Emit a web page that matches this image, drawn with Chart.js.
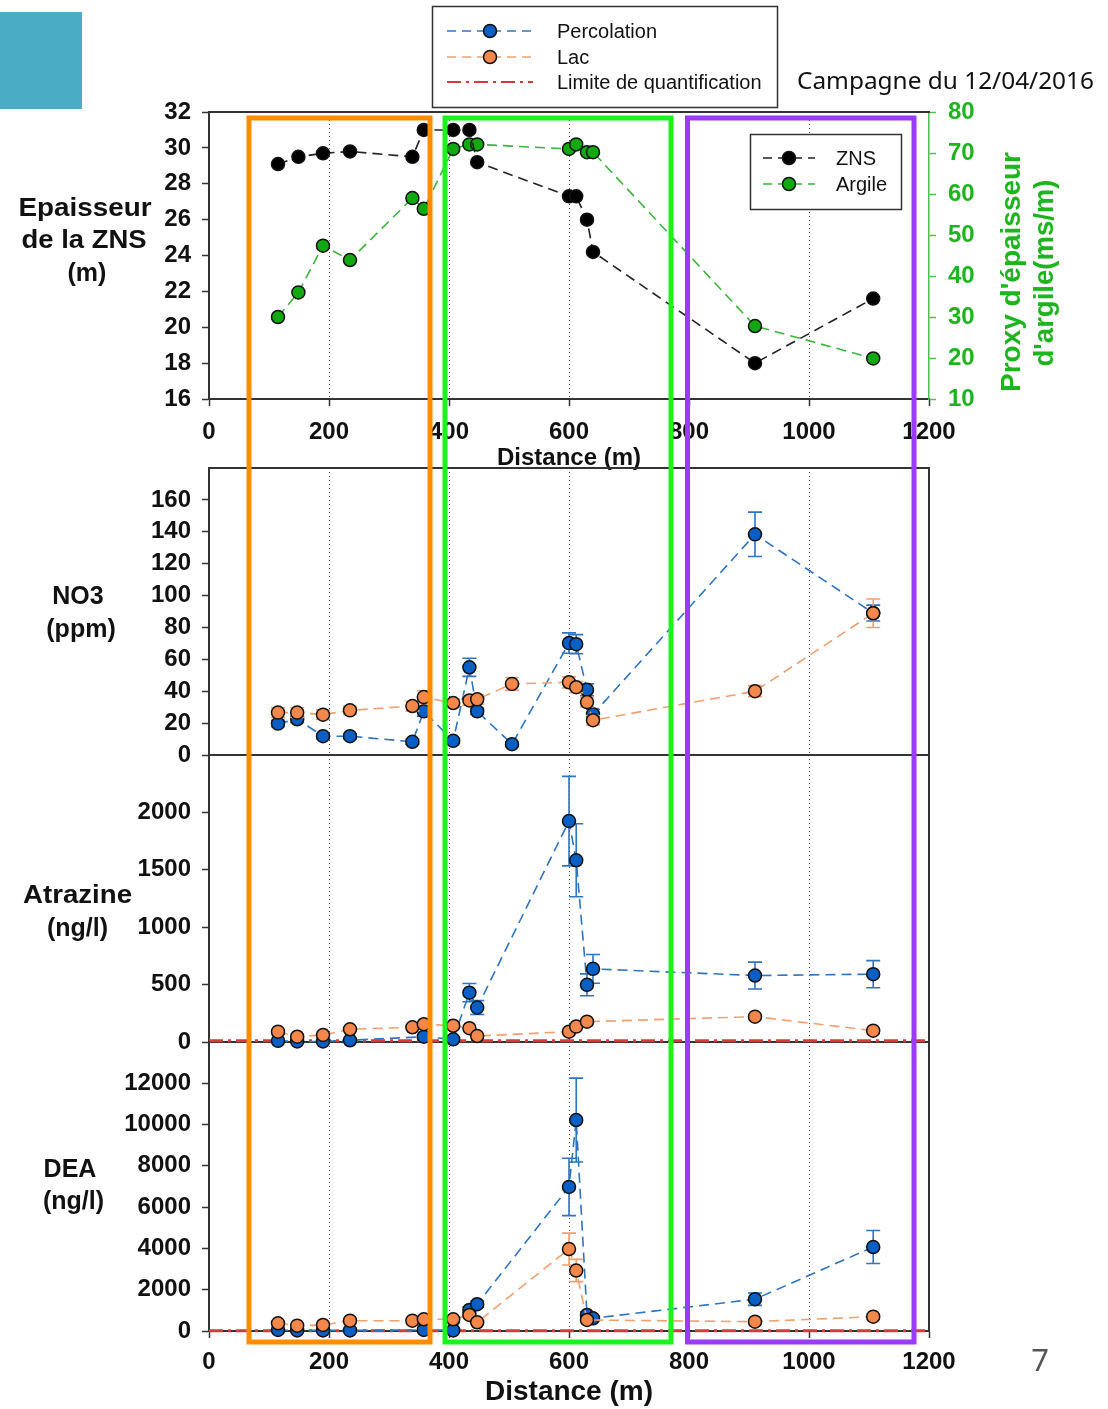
<!DOCTYPE html>
<html>
<head>
<meta charset="utf-8">
<script src="https://cdn.jsdelivr.net/npm/chart.js@4"></script>
<style>
  body { margin: 0; background: #fff; width: 1108px; height: 1409px; position: relative; overflow: hidden; }
  canvas { position: absolute; left: 0; }
  #overlay { position: absolute; left: 0; top: 0; pointer-events: none; }
</style>
</head>
<body>
<canvas id="cZns" width="1108" height="480" style="top:0px"></canvas>
<canvas id="cNo3" width="1108" height="343" style="top:440px"></canvas>
<canvas id="cAtz" width="1108" height="343" style="top:727px"></canvas>
<canvas id="cDea" width="1108" height="395" style="top:1014px"></canvas>

<svg id="overlay" width="1108" height="1409" font-family="Liberation Sans, Arial, sans-serif">
  <rect x="0" y="12" width="82" height="97" fill="#4BACC6"/>

  <!-- main legend -->
  <rect x="432.5" y="6.5" width="345" height="101" fill="#fff" stroke="#333" stroke-width="1.5"/>
  <line x1="447" y1="31" x2="535" y2="31" stroke="#2F74C0" stroke-width="1.6" stroke-dasharray="9,6"/>
  <circle cx="490" cy="31" r="6.5" fill="#0A5FC4" stroke="#111" stroke-width="1.5"/>
  <text x="557" y="38" font-size="20" fill="#111">Percolation</text>
  <line x1="447" y1="57" x2="535" y2="57" stroke="#F0A070" stroke-width="1.6" stroke-dasharray="9,6"/>
  <circle cx="490" cy="57" r="6.5" fill="#F4874A" stroke="#111" stroke-width="1.5"/>
  <text x="557" y="64" font-size="20" fill="#111">Lac</text>
  <line x1="447" y1="82" x2="533" y2="82" stroke="#D63B3B" stroke-width="1.8" stroke-dasharray="14,5,3,5"/>
  <text x="557" y="89" font-size="20" fill="#111">Limite de quantification</text>

  <text x="797" y="89" font-family="Noto Sans, sans-serif" font-size="23" fill="#111" textLength="297" lengthAdjust="spacingAndGlyphs">Campagne du 12/04/2016</text>

  <!-- ZNS / Argile legend -->
  <rect x="750.5" y="134.5" width="151" height="75" fill="#fff" stroke="#333" stroke-width="1.5"/>
  <line x1="763" y1="158" x2="815" y2="158" stroke="#222" stroke-width="1.6" stroke-dasharray="9,6"/>
  <circle cx="789" cy="158" r="6.5" fill="#000" stroke="#111" stroke-width="1.5"/>
  <text x="836" y="165" font-size="20" fill="#111">ZNS</text>
  <line x1="763" y1="184" x2="815" y2="184" stroke="#3DB33D" stroke-width="1.6" stroke-dasharray="9,6"/>
  <circle cx="789" cy="184" r="6.5" fill="#12A812" stroke="#111" stroke-width="1.5"/>
  <text x="836" y="191" font-size="20" fill="#111">Argile</text>

  <!-- side labels -->
  <g font-size="25" font-weight="bold" fill="#111" text-anchor="middle">
    <text x="85" y="216" textLength="133" lengthAdjust="spacingAndGlyphs">Epaisseur</text>
    <text x="84" y="248" textLength="125" lengthAdjust="spacingAndGlyphs">de la ZNS</text>
    <text x="87" y="281">(m)</text>
    <text x="78" y="604">NO3</text>
    <text x="81" y="637">(ppm)</text>
    <text x="77.5" y="903" textLength="109" lengthAdjust="spacingAndGlyphs">Atrazine</text>
    <text x="77.5" y="936">(ng/l)</text>
    <text x="70" y="1177">DEA</text>
    <text x="73.5" y="1209">(ng/l)</text>
  </g>
  <g font-size="27" font-weight="bold" fill="#1EB41E" text-anchor="middle">
    <text transform="translate(1020,272) rotate(-90)" textLength="240" lengthAdjust="spacingAndGlyphs">Proxy d'épaisseur</text>
    <text transform="translate(1053,273) rotate(-90)" textLength="187" lengthAdjust="spacingAndGlyphs">d'argile(ms/m)</text>
  </g>

  <!-- zones -->
  <rect x="249" y="118" width="181" height="1224" fill="none" stroke="#FF8C00" stroke-width="5"/>
  <rect x="445" y="118" width="226" height="1224" fill="none" stroke="#1CF21C" stroke-width="5"/>
  <rect x="687.5" y="118" width="226.5" height="1224" fill="none" stroke="#9B3BFA" stroke-width="5"/>

  <text x="1040" y="1371" font-family="Noto Sans, sans-serif" font-size="31" fill="#555" text-anchor="middle">7</text>
</svg>

<script>
// --- data ---
const xTicks = [0, 200, 400, 600, 800, 1000, 1200];
const znsTicks = [16, 18, 20, 22, 24, 26, 28, 30, 32];
const argileTicks = [10, 20, 30, 40, 50, 60, 70, 80];
const no3Ticks = [0, 20, 40, 60, 80, 100, 120, 140, 160];
const atzTicks = [0, 500, 1000, 1500, 2000];
const deaTicks = [0, 2000, 4000, 6000, 8000, 10000, 12000];

const distZns = [115, 149, 190, 235, 339, 358, 407, 434, 447, 600, 612, 630, 640, 910, 1107];
const zns     = [29.1, 29.5, 29.7, 29.8, 29.5, 31.0, 31.0, 31.0, 29.2, 27.3, 27.3, 26.0, 24.2, 18.0, 21.6];
const argile  = [30, 36, 47.4, 43.9, 59, 56.4, 71, 72.1, 72.1, 71, 72.1, 70.2, 70.2, 27.8, 19.9];

const distNo3    = [115, 147, 190, 235, 339, 358, 407, 434, 447, 505, 600, 612, 630, 640, 910, 1107];
const no3Perc    = [19.7, 22.4, 11.8, 11.8, 8.3, 27.4, 8.9, 55, 27.4, 6.8, 70.2, 69.5, 40.9, 25.5, 138.4, 89];
const no3PercErr = [2, 2, 1.5, 1.5, 1.5, 3, 1.5, 5.7, 2, 1.5, 6.4, 6, 3.7, 3, 13.9, 5];
const no3Lac     = [26.6, 26.6, 25.3, 28, 30.7, 36.3, 32.6, 34.2, 34.9, 44.6, 45.6, 42.5, 33.2, 21.8, 40, 88.9];
const no3LacErr  = [3, 3, 3, 2.5, 3, 4, 2.5, 3, 3, 4, 3.5, 3.5, 3, 3, 3.5, 8.9];

const distPest   = [115, 147, 190, 235, 339, 358, 407, 434, 447, 600, 612, 630, 640, 910, 1107];
const atzPerc    = [10, 5, 5, 15, null, 46, 23, 430, 300, 1924, 1583, 498, 637, 579, 591];
const atzPercErr = [0, 0, 0, 0, 0, 10, 0, 80, 60, 390, 318, 95, 125, 117, 118];
const atzLac     = [90, 46, 61, 111, 128, 155, 142, 120, 52, 90, 134, 177, null, 221, 99];
const atzLacErr  = [0, 0, 0, 0, 0, 0, 0, 0, 0, 0, 0, 0, 0, 0, 0];
const atzLq      = 10;

const deaPerc    = [50, 30, 30, 30, null, 50, 30, 1020, 1297, 6980, 10220, 777, 617, 1540, 4067];
const deaPercErr = [0, 0, 0, 0, 0, 0, 0, 150, 150, 1390, 2030, 150, 100, 300, 800];
const deaLac     = [374, 258, 291, 500, 500, 568, 568, 777, 423, 3970, 2930, 535, null, 452, 695];
const deaLacErr  = [0, 0, 0, 0, 0, 0, 0, 0, 0, 770, 540, 0, 0, 0, 0];
const deaLq      = 10;

// --- helpers ---
Chart.defaults.font.family = '"Liberation Sans", Arial, sans-serif';
Chart.defaults.animation = false;
Chart.defaults.plugins.legend.display = false;
Chart.defaults.plugins.tooltip.enabled = false;

const BLUE_LINE = '#2F74C0', BLUE_FILL = '#0A5FC4';
const ORANGE_LINE = '#F0A070', ORANGE_FILL = '#F4874A';

const pts = (xs, ys) => xs.map((x, i) => ({x: x, y: ys[i]}));
const plain = v => String(v);

function series(label, xs, ys, errs, line, fill, yAxisID, order) {
  return {
    label: label, data: pts(xs, ys), errors: errs, yAxisID: yAxisID,
    borderColor: line, backgroundColor: fill, borderWidth: 1.6, borderDash: [10, 6],
    pointRadius: 6.5, pointBackgroundColor: fill, pointBorderColor: '#111', pointBorderWidth: 1.5,
    spanGaps: true, clip: false, order: order
  };
}

function lqLine(v) {
  return {
    label: 'Limite de quantification', data: [{x: 0, y: v}, {x: 1200, y: v}], yAxisID: 'y',
    borderColor: '#D63B3B', borderWidth: 3, borderDash: [14, 5, 3, 5], pointRadius: 0, clip: false, order: 9
  };
}

// error bars drawn just before each dataset so the markers sit on top
const errorBars = {
  id: 'errorBars',
  beforeDatasetDraw(chart, args) {
    const ds = chart.data.datasets[args.index];
    if (!ds.errors) return;
    const ctx = chart.ctx, xs = args.meta.xScale, ys = args.meta.yScale;
    ctx.save();
    ctx.strokeStyle = ds.borderColor;
    ctx.lineWidth = 1.6;
    ds.data.forEach((p, i) => {
      const e = ds.errors[i];
      if (p.y == null || !e) return;
      const x = xs.getPixelForValue(p.x);
      const y1 = ys.getPixelForValue(p.y - e), y2 = ys.getPixelForValue(p.y + e);
      ctx.beginPath();
      ctx.moveTo(x, y1); ctx.lineTo(x, y2);
      ctx.moveTo(x - 7, y1); ctx.lineTo(x + 7, y1);
      ctx.moveTo(x - 7, y2); ctx.lineTo(x + 7, y2);
      ctx.stroke();
    });
    ctx.restore();
  }
};

const frame = {
  id: 'frame',
  afterDraw(chart, args, o) {
    const ctx = chart.ctx, a = chart.chartArea;
    ctx.save();
    ctx.strokeStyle = '#333';
    ctx.lineWidth = 2;
    ctx.beginPath();
    if (o.top) { ctx.moveTo(a.left - 1, a.top); ctx.lineTo(a.right + 1, a.top); }
    if (o.right) { ctx.moveTo(a.right, a.top); ctx.lineTo(a.right, a.bottom); }
    ctx.stroke();
    ctx.restore();
  }
};

function xAxis(o) {
  return {
    type: 'linear', min: 0, max: 1200,
    afterBuildTicks: s => { s.ticks = xTicks.map(v => ({value: v})); },
    afterFit: s => { s.height = o.height; },
    border: {color: '#333', width: 2, dash: [1, 3]},
    grid: {
      color: c => (c.tick && c.tick.value > 0 && c.tick.value < 1200) ? '#444' : 'rgba(0,0,0,0)',
      lineWidth: 1,
      drawTicks: o.labels, tickLength: 7, tickColor: '#333', tickWidth: 1.5, tickBorderDash: []
    },
    ticks: {display: o.labels, padding: o.padding || 0, color: '#111', autoSkip: false, maxRotation: 0,
            callback: plain, font: {size: 24, weight: 'bold'}},
    title: {display: !!o.title, text: 'Distance (m)', color: '#111',
            font: {size: o.titleSize || 24, weight: 'bold'}, padding: {top: 0, bottom: o.titleBottom || 0}}
  };
}

function yAxis(tickVals, min, max) {
  return {
    position: 'left', min: min, max: max,
    afterBuildTicks: s => { s.ticks = tickVals.map(v => ({value: v})); },
    afterFit: s => { s.width = 209; },
    border: {color: '#333', width: 2},
    grid: {drawOnChartArea: false, tickLength: 7, tickColor: '#333', tickWidth: 1.5},
    ticks: {padding: 11, color: '#111', autoSkip: false, callback: plain, font: {size: 24, weight: 'bold'}}
  };
}

// --- top panel: ZNS thickness and clay proxy ---
new Chart(document.getElementById('cZns'), {
  type: 'line',
  data: {datasets: [
    series('ZNS', distZns, zns, null, '#222', '#000', 'y', 1),
    series('Argile', distZns, argile, null, '#3DB33D', '#12A812', 'y2', 2)
  ]},
  options: {
    responsive: false,
    layout: {padding: {top: 112, left: 0, right: 0, bottom: 0}},
    scales: {
      x: xAxis({height: 81, labels: true, padding: 12, title: true, titleSize: 24, titleBottom: 7}),
      y: yAxis(znsTicks, 16, 32),
      y2: {
        position: 'right', min: 10, max: 80,
        afterBuildTicks: s => { s.ticks = argileTicks.map(v => ({value: v})); },
        afterFit: s => { s.width = 179; },
        border: {color: '#4DC04D', width: 1.5},
        grid: {drawOnChartArea: false, tickLength: 7, tickColor: '#4DC04D', tickWidth: 1.5},
        ticks: {padding: 12, color: '#1EB41E', autoSkip: false, callback: plain, font: {size: 24, weight: 'bold'}}
      }
    },
    plugins: {frame: {top: true, right: false}}
  },
  plugins: [errorBars, frame]
});

// --- NO3 ---
new Chart(document.getElementById('cNo3'), {
  type: 'line',
  data: {datasets: [
    series('Percolation', distNo3, no3Perc, no3PercErr, BLUE_LINE, BLUE_FILL, 'y', 2),
    series('Lac', distNo3, no3Lac, no3LacErr, ORANGE_LINE, ORANGE_FILL, 'y', 1)
  ]},
  options: {
    responsive: false,
    layout: {padding: {top: 28, left: 0, right: 179, bottom: 28}},
    scales: {x: xAxis({height: 0, labels: false}), y: yAxis(no3Ticks, 0, 180)},
    plugins: {frame: {top: true, right: true}}
  },
  plugins: [errorBars, frame]
});

// --- Atrazine ---
new Chart(document.getElementById('cAtz'), {
  type: 'line',
  data: {datasets: [
    series('Percolation', distPest, atzPerc, atzPercErr, BLUE_LINE, BLUE_FILL, 'y', 2),
    series('Lac', distPest, atzLac, atzLacErr, ORANGE_LINE, ORANGE_FILL, 'y', 1),
    lqLine(atzLq)
  ]},
  options: {
    responsive: false,
    layout: {padding: {top: 28, left: 0, right: 179, bottom: 28}},
    scales: {x: xAxis({height: 0, labels: false}), y: yAxis(atzTicks, 0, 2500)},
    plugins: {frame: {top: false, right: true}}
  },
  plugins: [errorBars, frame]
});

// --- DEA ---
new Chart(document.getElementById('cDea'), {
  type: 'line',
  data: {datasets: [
    series('Percolation', distPest, deaPerc, deaPercErr, BLUE_LINE, BLUE_FILL, 'y', 2),
    series('Lac', distPest, deaLac, deaLacErr, ORANGE_LINE, ORANGE_FILL, 'y', 1),
    lqLine(deaLq)
  ]},
  options: {
    responsive: false,
    layout: {padding: {top: 28, left: 0, right: 179, bottom: 0}},
    scales: {
      x: xAxis({height: 78, labels: true, padding: 10, title: true, titleSize: 28, titleBottom: 0}),
      y: yAxis(deaTicks, 0, 14000)
    },
    plugins: {frame: {top: false, right: true}}
  },
  plugins: [errorBars, frame]
});
</script>
</body>
</html>
